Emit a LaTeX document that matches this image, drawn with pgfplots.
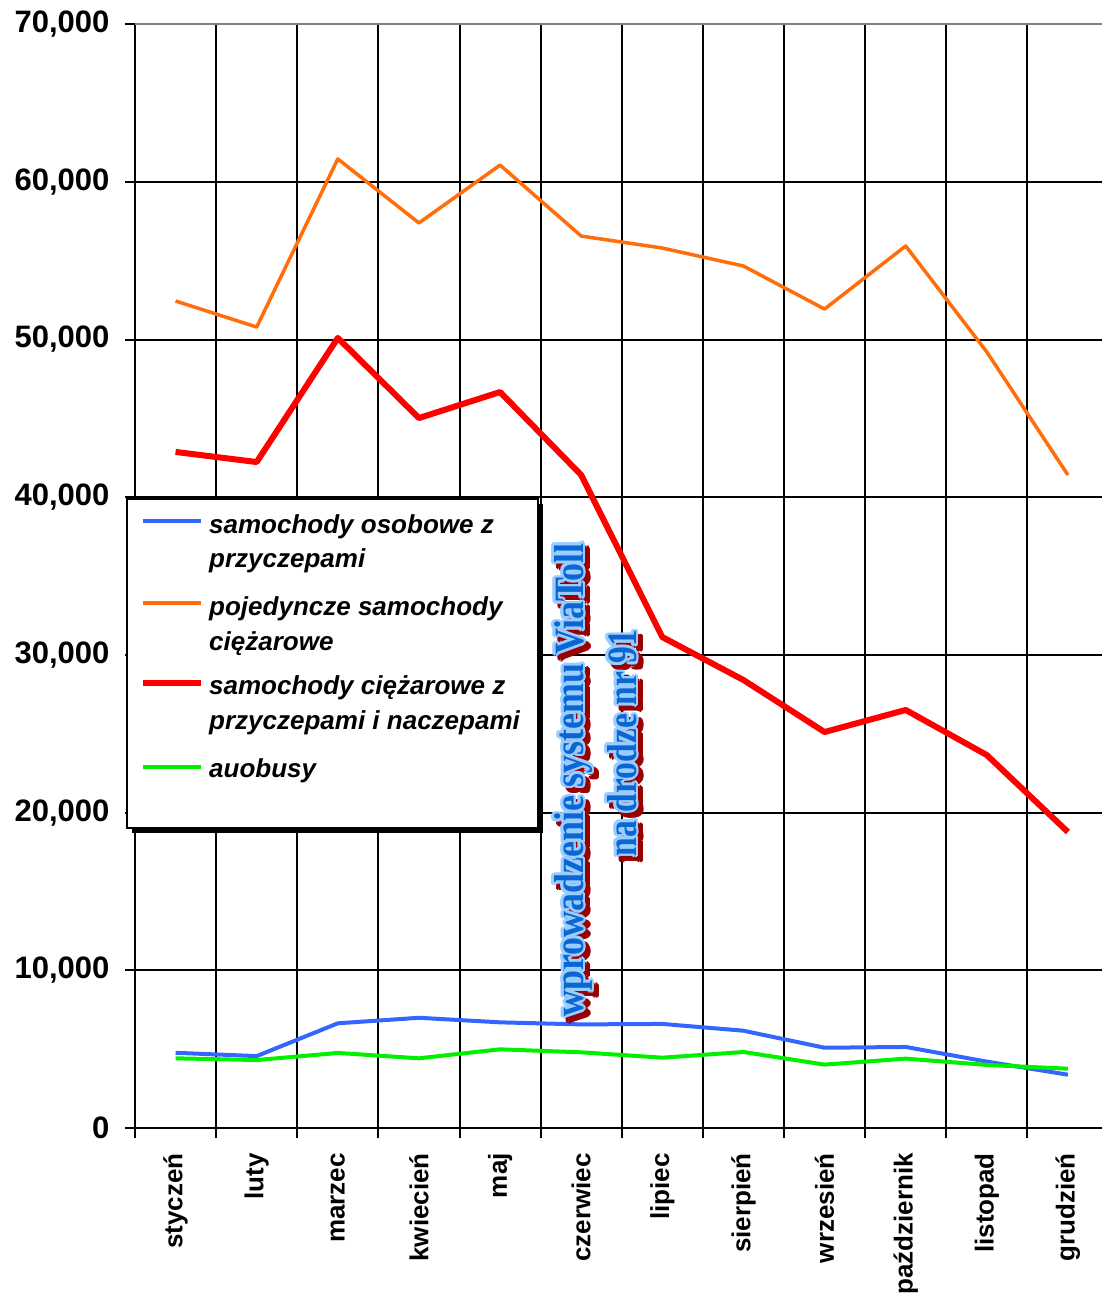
\documentclass[border=0pt]{standalone}
\usepackage{pgfplots}
\pgfplotsset{compat=1.18}
\usepackage{fontspec}
\setmainfont{Liberation Sans}
\newfontfamily\wafont{Liberation Serif}

\definecolor{cblue}{RGB}{51,102,255}
\definecolor{corange}{RGB}{255,110,10}
\definecolor{cred}{RGB}{255,0,0}
\definecolor{cgreen}{RGB}{0,240,0}
\definecolor{walight}{RGB}{153,204,255}
\definecolor{wablue}{RGB}{10,102,210}
\definecolor{wared}{RGB}{153,0,0}

% WordArt-like line: x of baseline, y of centre, width, text
\newcommand\waline[4]{%
  \foreach \a in {0,30,...,330}{%
    \node[rotate=90, anchor=base, inner sep=0pt, text=wared]
      at ({#1pt+5pt+2.8pt*cos(\a)}, {-#2pt-5pt+2.8pt*sin(\a)})
      {\resizebox{#3pt}{29pt}{\wafont\bfseries #4}};}
  \foreach \a in {0,30,...,330}{%
    \node[rotate=90, anchor=base, inner sep=0pt, text=walight]
      at ({#1pt+2.8pt*cos(\a)}, {-#2pt+2.8pt*sin(\a)})
      {\resizebox{#3pt}{29pt}{\wafont\bfseries #4}};}
  \node[rotate=90, anchor=base, inner sep=0pt, text=wablue]
    at (#1pt,-#2pt) {\resizebox{#3pt}{29pt}{\wafont\bfseries #4}};
}

\newcommand\legfont{\fontsize{26}{34.5}\selectfont\bfseries\itshape}

\begin{document}
\begin{tikzpicture}
\begin{axis}[
  at={(135pt,-1128pt)}, anchor=south west,
  scale only axis, width=967pt, height=1104pt,
  xmin=0.5, xmax=12.42, ymin=0, ymax=70000,
  axis x line*=bottom, axis y line*=left,
  axis line style={line width=2.5pt, black},
  xtick={0.5,1.5,...,11.5}, xticklabels={},
  extra x ticks={1,2,...,12},
  extra x tick labels={styczeń,luty,marzec,kwiecień,maj,czerwiec,lipiec,sierpień,wrzesień,październik,listopad,grudzień},
  extra x tick style={grid=none, major tick length=0pt},
  ytick={0,10000,...,60000},
  extra y ticks={70000},
  extra y tick style={grid style={gray, line width=2pt}},
  grid=major, grid style={black, line width=2pt},
  tick align=outside, major tick length=10pt,
  tick style={black, line width=2pt},
  scaled y ticks=false,
  yticklabel style={xshift=-12pt, font=\fontsize{31}{37}\selectfont\bfseries,
    /pgf/number format/assume math mode=true,
    /pgf/number format/fixed, /pgf/number format/1000 sep={,}},
  xticklabel style={yshift=-25pt, rotate=90, anchor=east, inner sep=0pt,
    font=\fontsize{26}{31}\selectfont\bfseries},
  line join=round,
]
% samochody osobowe z przyczepami
\addplot[cblue, line width=4pt] coordinates {
  (1,4770) (2,4560) (3,6640) (4,6990) (5,6700) (6,6570)
  (7,6600) (8,6170) (9,5090) (10,5140) (11,4210) (12,3380)};
% pojedyncze samochody ciezarowe
\addplot[corange, line width=3.5pt] coordinates {
  (1,52440) (2,50790) (3,61450) (4,57390) (5,61060) (6,56560)
  (7,55800) (8,54660) (9,51930) (10,55930) (11,49210) (12,41410)};
% samochody ciezarowe z przyczepami i naczepami
\addplot[cred, line width=6pt] coordinates {
  (1,42870) (2,42230) (3,50100) (4,45020) (5,46670) (6,41410)
  (7,31130) (8,28410) (9,25110) (10,26510) (11,23650) (12,18770)};
% autobusy
\addplot[cgreen, line width=4pt] coordinates {
  (1,4420) (2,4310) (3,4760) (4,4420) (5,4990) (6,4800)
  (7,4460) (8,4820) (9,4020) (10,4400) (11,4000) (12,3760)};
\end{axis}

% legend
\fill[black] (132pt,-504pt) rectangle (543pt,-833pt);
\draw[line width=2pt, fill=white] (127pt,-499pt) rectangle (538pt,-828pt);
\draw[cblue, line width=4pt] (143pt,-521pt) -- (201pt,-521pt);
\draw[corange, line width=3.5pt] (143pt,-603pt) -- (201pt,-603pt);
\draw[cred, line width=6pt] (143pt,-683pt) -- (201pt,-683pt);
\draw[cgreen, line width=4pt] (143pt,-767pt) -- (201pt,-767pt);
\begin{scope}[every node/.style={anchor=base west, inner sep=0pt, font=\legfont}]
\node at (209pt,-533pt) {samochody osobowe z};
\node at (209pt,-567pt) {przyczepami};
\node at (209pt,-615pt) {pojedyncze samochody};
\node at (209pt,-650pt) {ciężarowe};
\node at (209pt,-694pt) {samochody ciężarowe z};
\node at (209pt,-729pt) {przyczepami i naczepami};
\node at (209pt,-777pt) {auobusy};
\end{scope}

% annotation
\waline{583}{780}{473}{wprowadzenie systemu ViaToll}
\waline{636}{743}{226}{na drodze nr 91}

\pgfresetboundingbox
\path[use as bounding box] (0pt,0pt) rectangle (1102pt,-1295pt);
\end{tikzpicture}
\end{document}
